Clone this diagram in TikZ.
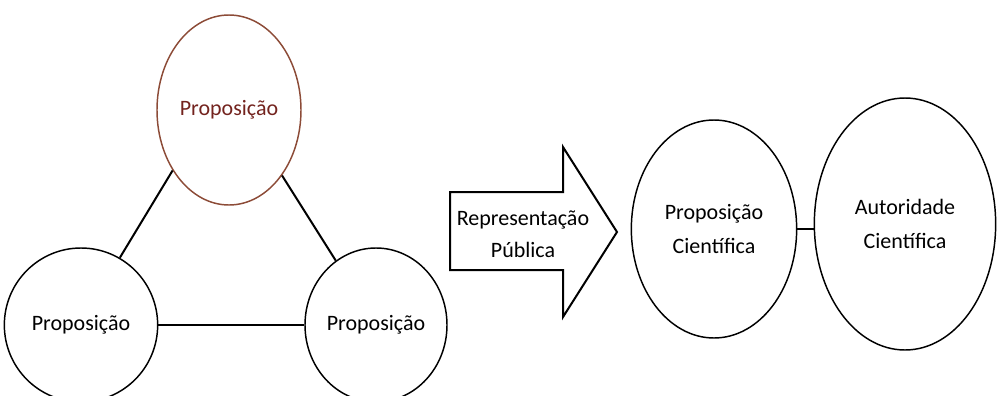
\documentclass[tikz,border=0pt]{standalone}
\usepackage{fontspec}
\setmainfont{Carlito}
\usetikzlibrary{shapes.geometric}
\begin{document}
\begin{tikzpicture}[x=0.75pt,y=0.75pt,yscale=-1,xscale=1,
  bubble/.style={draw, ellipse, line width=1.1pt, inner sep=0pt, align=center, font=\fontsize{16.5}{24}\selectfont},
  link/.style={line width=1.5pt}]
\useasboundingbox (0,0) rectangle (997,396);

%Shape: Ellipse [id:top]
\draw (229,110) node [bubble, minimum width=108pt, minimum height=142.5pt, color={rgb, 255:red, 140; green, 75; blue, 55 }, text={rgb, 255:red, 115; green, 35; blue, 30 }] (top) {Proposição};
%Shape: Circle [id:left]
\draw (81,325) node [bubble, minimum width=115pt, minimum height=115.5pt] (left) {Proposição};
%Shape: Circle [id:right]
\draw (376,325) node [bubble, minimum width=106.5pt, minimum height=115.5pt] (right) {Proposição};

%Straight Lines
\draw [link] (top.227) -- (left.60) ;
\draw [link] (top.309) -- (right.122) ;
\draw [link] (left.east) -- (right.west) ;

%Shape: Right Arrow
\draw [line width=1.5pt] (450,192) -- (563,192) -- (563,147) -- (617,232) -- (563,317) -- (563,270) -- (450,270) -- cycle ;
% Text Node
\draw (523,234) node [align=center, font=\fontsize{16.5}{24}\selectfont] (pub) {Representação\\Pública};

%Shape: Ellipse [id:sci]
\draw (714,229) node [bubble, minimum width=124pt, minimum height=163.5pt, font=\fontsize{16.5}{26}\selectfont] (sci) {Proposição\\Científica};
%Shape: Ellipse [id:aut]
\draw (905,224) node [bubble, minimum width=136pt, minimum height=189pt, font=\fontsize{16.5}{25}\selectfont] (aut) {Autoridade\\Científica};

%Straight Lines
\draw [link] (sci.east) -- (sci.east -| aut.west) ;

\end{tikzpicture}
\end{document}
